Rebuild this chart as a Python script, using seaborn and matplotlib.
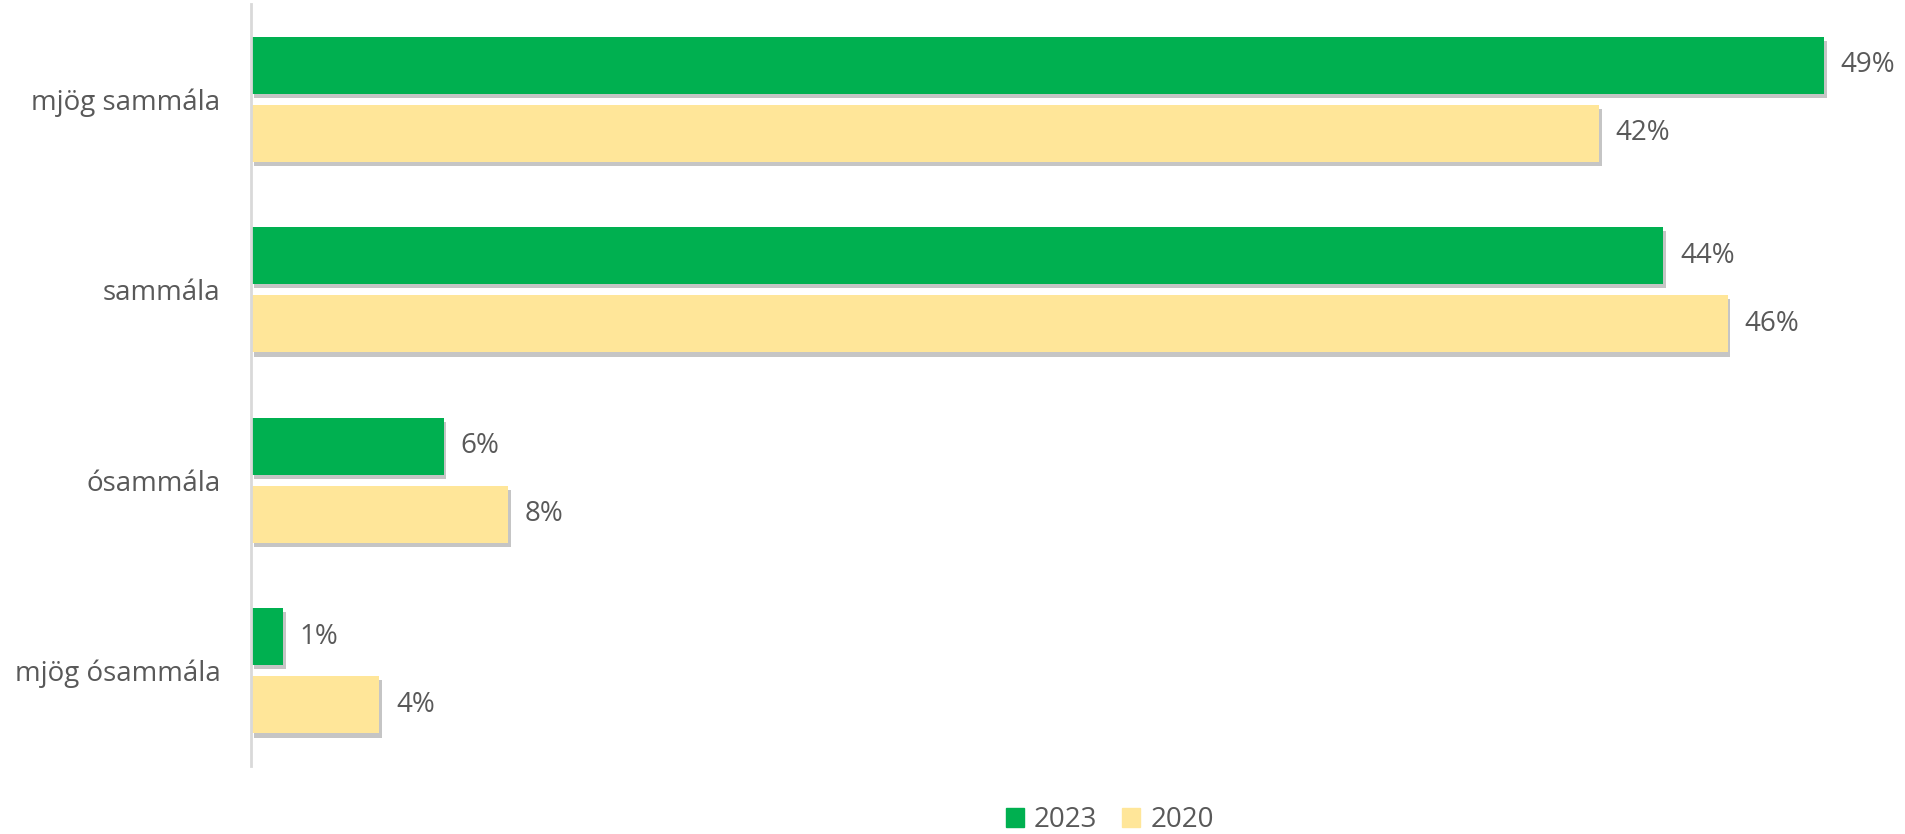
import pandas as pd
import matplotlib.pyplot as plt
import matplotlib.patheffects as pe
import seaborn as sns

categories = ['mjög sammála', 'sammála', 'ósammála', 'mjög ósammála']
values_2023 = [49, 44, 6, 1]
values_2020 = [42, 46, 8, 4]
years = ['2023', '2020']
colors = ['#00B050', '#FFE699']

df = pd.DataFrame({
    'svar': categories * 2,
    'hlutfall': values_2023 + values_2020,
    'ár': [years[0]] * len(categories) + [years[1]] * len(categories),
})

sns.set_style('white')
plt.rcParams['font.family'] = ['Open Sans', 'DejaVu Sans']
text_color = '#595959'

fig = plt.figure(figsize=(19.06, 8.34), dpi=100)
ax = fig.add_axes([251 / 1906, 1 - 766 / 834, (1890 - 251) / 1906, 762 / 834])

sns.barplot(data=df, y='svar', x='hlutfall', hue='ár', order=categories,
            hue_order=years, palette=colors, orient='h', width=0.716,
            gap=0.16, linewidth=0, saturation=1, ax=ax)

shadow = [pe.SimplePatchShadow(offset=(2, -3), shadow_rgbFace='#7f7f7f', alpha=0.45),
          pe.Normal()]
for container in ax.containers:
    for bar in container:
        bar.set_path_effects(shadow)
    ax.bar_label(container, labels=[f'{v:.0f}%' for v in container.datavalues],
                 padding=12, fontsize=20, color=text_color)

ax.set_xlim(0, 51.06)
ax.set_ylim(3.5, -0.5)
ax.set_xlabel('')
ax.set_ylabel('')
ax.set_xticks([])
ax.tick_params(axis='y', length=0, pad=22, labelsize=20, labelcolor=text_color)
for side in ['top', 'right', 'bottom']:
    ax.spines[side].set_visible(False)
ax.spines['left'].set_color('#d9d9d9')
ax.spines['left'].set_linewidth(2)

ax.legend_.remove()
handles = [plt.Rectangle((0, 0), 1, 1, color=c) for c in colors]
fig.legend(handles, years, loc='center', bbox_to_anchor=(1110 / 1906, 1 - 820 / 834),
           ncol=2, frameon=False, fontsize=20, labelcolor=text_color,
           handlelength=0.65, handleheight=0.65, handletextpad=0.35,
           columnspacing=0.9)

fig.savefig('out.png', dpi=100)
